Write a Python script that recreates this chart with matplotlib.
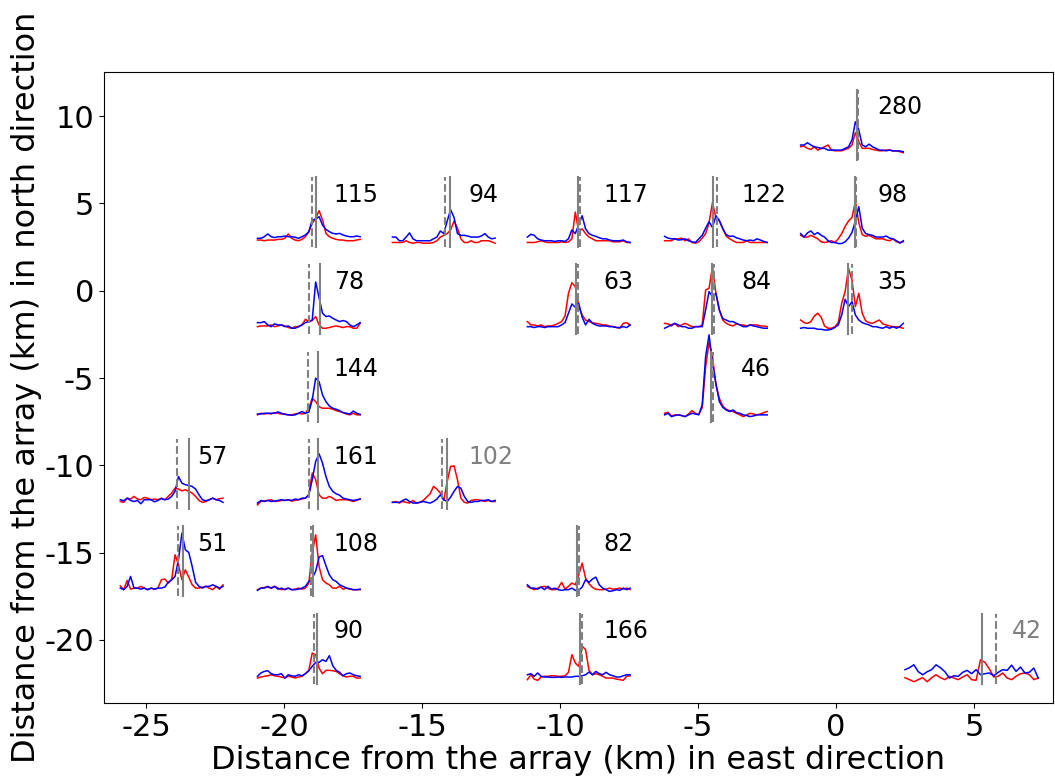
import numpy as np
import matplotlib.pyplot as plt

plt.rcParams["axes.unicode_minus"] = False

# station labels and positions on the map (km)
labels = ["280", "115", "94", "117", "122", "98", "78", "63", "84", "35",
          "144", "46", "57", "161", "102", "51", "108", "82", "90", "166", "42"]
east = [0.49, -19.19, -14.3, -9.41, -4.44, 0.49, -19.19, -9.41, -4.44, 0.49,
        -19.19, -4.44, -24.16, -19.19, -14.3, -24.16, -19.19, -9.41, -19.19, -9.41, 5.38]
north = [10, 5, 5, 5, 5, 5, 0, 0, 0, 0,
         -5, -5, -10, -10, -10, -15, -15, -15, -20, -20, -20]
gray_labels = ["102", "42"]

# arrival markers (km along the east axis)
arr_dashed = [0.80, -18.99, -14.18, -9.28, -4.32, 0.72, -19.09, -9.36, -4.41, 0.58,
              -19.12, -4.47, -23.89, -19.09, -14.26, -23.83, -19.02, -9.31, -18.91, -9.19, 5.79]
arr_solid = [0.77, -18.84, -13.99, -9.34, -4.46, 0.69, -18.71, -9.43, -4.48, 0.43,
             -18.76, -4.54, -23.45, -18.78, -14.11, -23.65, -18.94, -9.37, -18.82, -9.28, 5.28]

# waveform amplitudes (km above trace baseline)
red_280 = [0.24, 0.28, 0.15, 0.09, 0.24, 0.05, 0.15, 0.24, 0.34, 0.05, 0.01, 0.01, 0.01, 0.09, 0.15, 0.34,
           1.05, 0.53, 0.15, 0.15, 0.15, 0.09, 0.05, 0.01, 0.01, 0.05, 0.05, 0.01, 0.00, -0.04, -0.10]
blue_280 = [0.34, 0.34, 0.47, 0.34, 0.24, 0.20, 0.15, 0.15, 0.05, 0.05, 0.05, 0.05, 0.05, 0.15, 0.24, 0.63,
            1.67, 1.20, 0.34, 0.24, 0.39, 0.24, 0.15, 0.05, 0.05, 0.01, 0.05, 0.00, 0.01, 0.00, -0.04]
red_115 = [-0.10, -0.10, -0.14, -0.10, -0.10, -0.10, -0.06, -0.06, 0.00, 0.25, 0.00, -0.10, -0.14, -0.06, 0.09, 0.38,
           0.86, 1.14, 1.58, 1.05, 0.28, 0.09, 0.00, -0.06, -0.10, -0.10, -0.14, -0.14, -0.14, -0.10, -0.06]
blue_115 = [0.00, 0.00, 0.09, 0.25, 0.09, 0.04, 0.09, 0.09, 0.13, 0.09, 0.09, 0.06, 0.00, 0.09, 0.19, 0.38,
            1.05, 1.09, 1.24, 0.76, 0.51, 0.38, 0.28, 0.25, 0.28, 0.19, 0.13, 0.09, 0.09, 0.13, 0.09]
red_94 = [-0.24, -0.24, -0.24, -0.24, -0.14, -0.24, -0.28, -0.24, -0.24, -0.28, -0.28, -0.28, -0.24, -0.14, 0.07, 0.17,
          0.27, 0.48, 0.99, 0.58, -0.03, -0.24, -0.24, -0.14, -0.24, -0.24, -0.14, -0.14, -0.14, -0.20, -0.28]
blue_94 = [0.07, 0.07, -0.14, -0.14, 0.07, 0.31, -0.03, -0.14, -0.14, -0.14, -0.14, -0.14, -0.03, 0.07, 0.42, 0.27,
           0.99, 1.64, 1.19, 0.27, 0.17, 0.17, 0.13, 0.07, 0.07, 0.07, 0.13, 0.27, 0.07, -0.03, 0.01]
red_117 = [-0.24, -0.24, -0.24, -0.20, -0.14, -0.20, -0.24, -0.24, -0.24, -0.24, -0.20, -0.24, -0.20, -0.03, 1.50, 0.37,
           0.54, 0.27, 0.07, -0.03, -0.14, -0.14, -0.14, -0.14, -0.14, -0.20, -0.20, -0.20, -0.14, -0.24, -0.24]
blue_117 = [0.07, 0.23, 0.17, -0.03, -0.10, -0.14, -0.14, -0.14, -0.18, -0.14, -0.14, -0.18, -0.03, 0.48, 0.27, 0.78,
            1.29, 0.54, 0.27, 0.17, 0.11, 0.03, -0.03, -0.03, -0.10, -0.14, -0.14, -0.14, -0.10, -0.20, -0.24]
red_122 = [-0.14, -0.14, -0.14, -0.03, -0.03, 0.01, -0.14, -0.03, -0.24, -0.28, -0.20, 0.01, 0.27, 0.89, 2.05, 1.19,
           0.99, 0.58, 0.13, -0.03, -0.14, -0.24, -0.24, -0.24, -0.14, -0.24, -0.24, -0.24, -0.24, -0.24, -0.24]
blue_122 = [0.11, 0.01, -0.03, -0.03, -0.10, -0.08, -0.03, -0.14, -0.20, -0.24, -0.03, 0.17, 0.58, 0.95, 0.62, 1.29,
            1.03, 0.54, 0.21, 0.11, 0.13, 0.03, -0.03, -0.10, -0.14, -0.10, -0.14, -0.03, -0.10, -0.18, -0.24]
red_98 = [0.17, 0.07, 0.07, 0.17, 0.07, -0.03, -0.20, -0.24, -0.20, -0.14, -0.24, -0.03, 0.27, 0.68, 0.99, 1.19,
          2.11, 0.89, 0.21, 0.11, 0.17, 0.07, -0.03, -0.03, -0.03, -0.10, -0.14, -0.03, -0.20, -0.24, -0.20]
blue_98 = [0.27, 0.07, 0.31, 0.42, 0.21, 0.33, 0.17, 0.07, -0.14, -0.24, -0.24, -0.30, -0.30, -0.20, 0.01, 0.33,
           0.99, 1.81, 0.58, 0.27, 0.21, 0.17, 0.07, 0.07, 0.07, 0.13, 0.01, -0.03, -0.14, -0.28, -0.14]
red_78 = [-0.06, -0.02, -0.02, -0.02, 0.04, -0.06, -0.02, 0.04, -0.02, -0.11, -0.15, -0.06, -0.06, 0.04, 0.36, 0.23,
          0.29, 0.52, 0.04, -0.15, -0.15, -0.11, -0.06, -0.02, -0.06, -0.11, -0.06, -0.06, -0.15, -0.15, 0.13]
blue_78 = [0.17, 0.17, 0.23, 0.04, -0.06, 0.10, 0.04, 0.04, -0.06, -0.02, -0.15, -0.15, -0.06, 0.04, 0.17, 0.23,
           0.32, 2.50, 1.60, 0.71, 0.52, 0.55, 0.42, 0.32, 0.23, 0.29, 0.23, 0.04, -0.06, 0.04, 0.17]
red_63 = [0.23, 0.04, 0.04, -0.02, 0.04, -0.06, -0.02, -0.02, 0.04, 0.13, 0.23, 0.55, 1.85, 2.46, 2.23, 1.09,
          0.61, 0.32, 0.23, 0.17, 0.13, 0.10, 0.04, 0.04, -0.02, -0.06, -0.10, -0.15, 0.13, 0.17, 0.04]
blue_63 = [-0.06, -0.06, -0.11, -0.06, -0.06, -0.11, -0.06, -0.06, -0.06, -0.06, 0.04, 0.17, 0.71, 1.24, 1.05, 1.28,
           0.48, 0.04, 0.36, 0.13, 0.04, -0.02, -0.02, -0.02, -0.06, -0.06, -0.11, -0.11, -0.06, -0.11, 0.04]
red_84 = [0.13, 0.10, -0.02, 0.13, -0.06, 0.04, 0.13, 0.04, -0.06, -0.06, -0.06, 0.04, 2.04, 2.14, 3.38, 1.85,
          0.90, 0.32, 0.13, 0.04, -0.02, 0.10, 0.04, 0.04, -0.02, 0.04, 0.04, 0.04, -0.02, -0.02, -0.06]
blue_84 = [-0.15, -0.06, 0.04, 0.13, 0.04, -0.06, -0.06, -0.15, -0.15, -0.06, -0.06, -0.06, 0.90, 1.95, 1.66, 1.85,
           0.90, 0.40, 0.32, 0.23, 0.23, 0.13, 0.04, -0.06, -0.06, 0.04, -0.02, -0.06, -0.11, -0.15, -0.15]
red_35 = [0.32, 0.17, 0.13, 0.23, 0.55, 0.71, 0.48, -0.02, -0.15, -0.15, -0.06, 0.17, 1.28, 1.95, 3.28, 2.61,
          1.09, 1.85, 0.71, 0.27, 0.17, 0.13, 0.23, 0.32, 0.10, 0.04, -0.02, -0.06, -0.06, -0.10, -0.15]
blue_35 = [-0.15, -0.11, -0.15, -0.15, -0.15, -0.21, -0.21, -0.25, -0.25, -0.21, -0.11, 0.04, 0.61, 1.51, 1.09, 1.37,
           0.61, 0.32, 0.17, 0.10, 0.04, -0.06, -0.06, -0.11, -0.15, -0.06, -0.15, -0.06, -0.15, -0.06, 0.13]
red_144 = [-0.11, -0.02, -0.06, -0.02, -0.06, 0.02, -0.02, -0.06, -0.06, -0.11, -0.11, -0.06, -0.02, -0.06, -0.02, 0.27,
           0.84, 0.65, 0.36, 0.27, 0.27, 0.27, 0.21, 0.13, 0.08, 0.02, -0.06, -0.11, -0.02, -0.11, -0.11]
blue_144 = [-0.06, -0.06, -0.02, -0.02, -0.02, -0.02, 0.06, -0.02, -0.08, -0.11, -0.13, -0.11, -0.02, 0.08, -0.02, 0.04,
            0.74, 1.99, 1.79, 1.03, 0.65, 0.40, 0.27, 0.21, 0.13, 0.02, -0.02, -0.06, 0.11, -0.02, -0.08]
red_46 = [-0.02, 0.04, -0.17, -0.11, -0.11, -0.15, -0.21, -0.06, 0.13, -0.02, -0.08, 0.32, 2.65, 4.03, 3.24, 1.60,
          0.84, 0.40, 0.21, 0.13, 0.08, -0.02, -0.11, -0.21, -0.11, -0.02, -0.06, -0.11, -0.06, 0.02, 0.08]
blue_46 = [-0.11, -0.02, -0.21, -0.15, -0.11, -0.15, -0.21, -0.11, -0.02, -0.06, -0.11, 0.46, 3.24, 4.47, 2.86, 1.70,
           0.65, 0.32, 0.17, 0.08, 0.17, 0.02, -0.02, -0.11, -0.15, -0.21, -0.17, -0.11, -0.11, -0.11, -0.11]
red_57 = [-0.07, -0.12, 0.12, 0.07, 0.22, 0.07, 0.03, 0.16, 0.12, 0.03, 0.07, 0.03, 0.12, 0.03, 0.22, 0.41,
          0.70, 0.64, 0.54, 0.60, 0.51, 0.41, 0.22, -0.01, -0.12, -0.07, 0.03, 0.12, 0.03, 0.09, 0.12]
blue_57 = [0.03, -0.03, 0.12, -0.01, -0.07, -0.01, -0.20, 0.03, 0.03, 0.03, -0.09, -0.01, 0.10, 0.03, 0.07, 0.22,
           0.51, 1.36, 0.98, 0.89, 0.85, 0.79, 0.64, 0.31, 0.03, -0.03, 0.03, 0.12, 0.03, -0.01, -0.12]
red_161 = [-0.26, -0.07, -0.03, -0.01, 0.03, -0.07, -0.05, -0.01, -0.01, 0.03, -0.05, -0.01, 0.03, 0.07, 0.12, 0.31,
           1.56, 1.18, 0.31, 0.12, 0.12, 0.22, 0.12, -0.01, 0.03, 0.03, 0.03, -0.01, -0.07, -0.01, 0.07]
blue_161 = [-0.16, -0.01, -0.07, -0.01, -0.07, -0.05, -0.01, 0.03, -0.01, 0.03, -0.01, 0.07, 0.03, 0.12, 0.12, 0.31,
            1.17, 2.22, 2.66, 2.13, 1.36, 0.79, 0.51, 0.37, 0.29, 0.12, 0.07, 0.03, -0.01, 0.03, 0.07]
red_102 = [-0.12, -0.07, -0.16, -0.07, -0.12, -0.16, -0.01, -0.16, -0.12, -0.01, 0.18, 0.37, 0.79, 0.64, 0.41, -0.01,
           1.08, 1.94, 1.97, 1.18, 0.12, -0.12, -0.16, -0.01, 0.03, 0.03, -0.01, -0.07, -0.01, -0.07, -0.07]
blue_102 = [-0.12, -0.12, -0.12, -0.01, 0.07, -0.07, -0.16, -0.16, -0.12, -0.07, -0.12, -0.16, -0.07, 0.07, 0.31, 0.03,
            -0.07, 0.18, 0.51, 0.79, 0.69, 0.22, -0.07, -0.12, -0.07, -0.07, -0.01, -0.01, 0.03, -0.07, -0.01]
red_51 = [0.10, -0.12, 0.41, -0.09, -0.03, -0.03, 0.07, -0.03, -0.12, -0.03, -0.09, -0.03, 0.45, 0.49, 0.26, 0.45,
          1.88, 1.31, 0.45, 1.02, 0.60, 0.16, -0.03, -0.03, 0.03, 0.07, -0.03, -0.12, 0.07, -0.09, 0.16]
blue_51 = [-0.03, -0.12, 0.07, 0.64, -0.03, -0.03, -0.09, -0.03, -0.12, -0.03, -0.09, -0.03, -0.03, 0.03, 0.30, 0.45,
           0.64, 1.60, 3.12, 2.17, 2.01, 1.21, 0.30, 0.07, -0.03, 0.07, 0.07, 0.16, 0.07, -0.03, 0.07]
red_108 = [-0.12, -0.03, 0.01, 0.03, -0.03, 0.07, -0.03, -0.12, -0.09, -0.03, -0.12, -0.09, -0.03, -0.09, -0.03, 0.26,
           1.98, 3.02, 1.21, 0.45, 0.26, 0.16, -0.03, -0.03, 0.07, -0.09, -0.03, -0.09, -0.12, -0.12, -0.12]
blue_108 = [-0.16, -0.03, -0.03, 0.07, -0.03, 0.07, -0.09, -0.03, -0.12, -0.03, -0.12, -0.12, -0.09, -0.03, 0.07, 0.35,
            0.54, 0.93, 1.75, 1.83, 1.26, 0.73, 0.45, 0.35, 0.16, 0.07, -0.03, -0.07, -0.12, -0.12, -0.09]
red_82 = [0.07, -0.03, -0.12, -0.03, 0.03, 0.07, -0.03, -0.12, -0.12, -0.03, 0.30, -0.09, 0.07, 0.26, 0.16, 0.73,
          1.40, 0.54, 0.22, 0.01, -0.09, -0.12, -0.12, -0.09, -0.03, -0.09, -0.07, -0.03, -0.09, -0.03, -0.12]
blue_82 = [0.16, -0.03, -0.03, -0.09, 0.03, -0.12, 0.07, -0.09, -0.03, -0.12, -0.16, -0.12, -0.12, -0.03, -0.16, -0.16,
           0.03, 0.45, 0.30, 0.49, 0.60, 0.16, -0.03, -0.12, -0.22, -0.18, -0.12, -0.16, -0.03, -0.12, -0.03]
red_90 = [-0.18, -0.12, -0.08, -0.05, 0.01, -0.05, -0.08, -0.12, -0.18, -0.08, -0.12, -0.18, -0.12, -0.08, 0.07, 0.26,
          1.25, 1.15, 0.39, 0.07, 0.26, 0.26, 0.24, 0.20, 0.07, -0.05, -0.12, -0.08, -0.08, -0.18, -0.18]
blue_90 = [-0.08, 0.11, 0.20, 0.24, 0.07, 0.01, 0.01, 0.07, -0.18, 0.01, -0.05, -0.08, 0.01, -0.05, 0.07, 0.24,
           0.49, 0.72, 0.72, 0.87, 0.77, 1.10, 0.53, 0.26, 0.15, -0.05, 0.07, 0.11, 0.01, -0.05, -0.08]
red_166 = [-0.27, 0.01, -0.24, -0.31, -0.12, -0.08, -0.08, -0.05, -0.05, -0.08, -0.08, -0.05, 0.15, 1.16, 0.68, 0.49,
           1.65, 1.45, 0.26, 0.01, 0.07, 0.01, -0.08, -0.18, -0.18, -0.18, -0.24, -0.27, -0.31, -0.08, -0.05]
blue_166 = [0.01, 0.07, -0.08, 0.11, -0.08, -0.12, -0.12, -0.14, -0.14, -0.12, -0.14, -0.12, -0.12, -0.12, -0.08, -0.08,
            -0.05, 0.01, 0.16, 0.01, 0.20, 0.07, 0.01, 0.15, 0.01, -0.05, -0.12, -0.12, -0.05, 0.01, 0.01]
red_42 = [-0.16, -0.27, -0.39, -0.27, -0.16, -0.39, -0.16, 0.01, -0.16, -0.27, -0.08, -0.18, -0.27, -0.12, 0.01, -0.27,
          -0.31, 0.87, 0.72, 0.34, -0.12, -0.08, 0.11, -0.18, -0.27, -0.08, 0.07, 0.11, 0.01, -0.27, -0.18]
blue_42 = [0.30, 0.41, 0.58, 0.18, 0.01, 0.18, 0.30, 0.58, 0.41, 0.18, -0.18, -0.05, -0.08, 0.15, 0.26, 0.07,
           0.30, 0.01, 0.07, 0.11, -0.05, 0.15, 0.30, 0.26, 0.56, 0.20, 0.45, 0.11, 0.15, 0.39, -0.18]

red_traces = [red_280, red_115, red_94, red_117, red_122, red_98, red_78, red_63, red_84, red_35,
              red_144, red_46, red_57, red_161, red_102, red_51, red_108, red_82, red_90, red_166, red_42]
blue_traces = [blue_280, blue_115, blue_94, blue_117, blue_122, blue_98, blue_78, blue_63, blue_84, blue_35,
               blue_144, blue_46, blue_57, blue_161, blue_102, blue_51, blue_108, blue_82, blue_90, blue_166, blue_42]

fig = plt.figure(figsize=(10.55, 7.77), dpi=100)
ax = fig.add_axes([0.0986, 0.0952, 0.8994, 0.8121])

for i, name in enumerate(labels):
    x0, y0 = east[i], north[i]
    start = -2.88 if name == "42" else -1.77
    xs = np.linspace(x0 + start, x0 + 1.95, len(red_traces[i]))
    base = y0 - 2.0
    ax.plot(xs, base + np.array(red_traces[i]), color="red", lw=1.1)
    ax.plot(xs, base + np.array(blue_traces[i]), color="blue", lw=1.1)
    ax.plot([arr_solid[i]] * 2, [y0 - 2.5, y0 + 1.5], color="gray", lw=1.5)
    ax.plot([arr_dashed[i]] * 2, [y0 - 2.5, y0 + 1.5], color="gray", lw=1.5, ls="--")
    ax.text(x0 + 1.0, y0 + 0.5, name, fontsize=17, ha="left", va="center",
            color="gray" if name in gray_labels else "black")

ax.set_xlim(-26.52, 7.86)
ax.set_ylim(-23.61, 12.52)
ax.set_xticks([-25, -20, -15, -10, -5, 0, 5])
ax.set_yticks([-20, -15, -10, -5, 0, 5, 10])
ax.tick_params(labelsize=22)
ax.set_xlabel("Distance from the array (km) in east direction", fontsize=23, labelpad=2)
ax.set_ylabel("Distance from the array (km) in north direction", fontsize=23, labelpad=2)

fig.savefig("out.png", dpi=100)
